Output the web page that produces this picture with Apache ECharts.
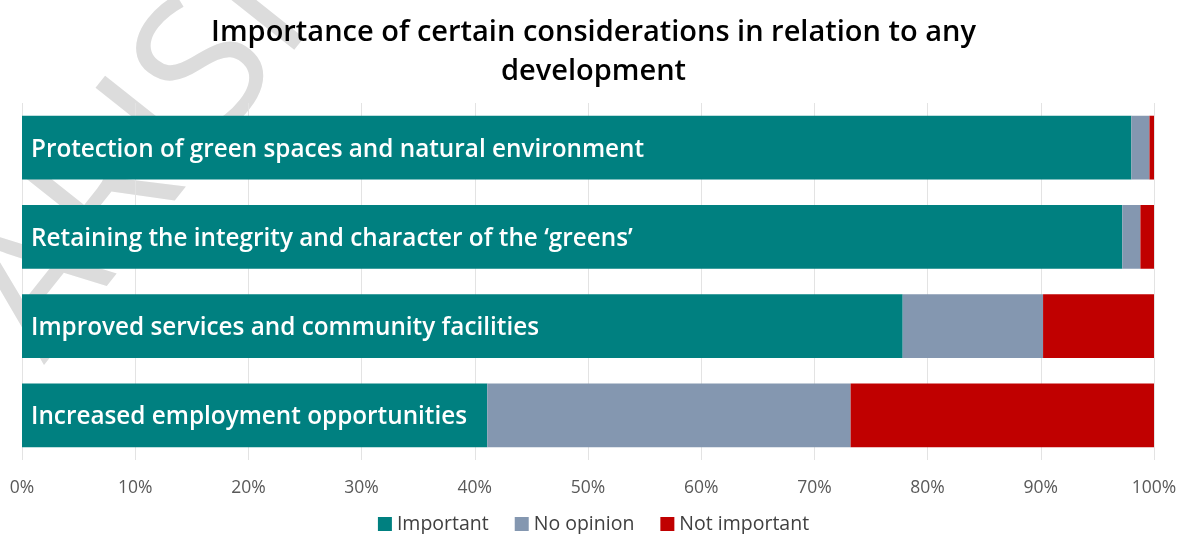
<!DOCTYPE html>
<html>
<head>
<meta charset="utf-8">
<style>
  html, body { margin: 0; padding: 0; background: #ffffff; }
  #chart { width: 1187px; height: 534px; }
</style>
<script src="https://cdn.jsdelivr.net/npm/echarts@6/dist/echarts.min.js"></script>
</head>
<body>
<div id="chart"></div>
<script>
// Survey considerations, listed top to bottom
const categories = [
  'Protection of green spaces and natural environment',
  'Retaining the integrity and character of the \u2018greens\u2019',
  'Improved services and community facilities',
  'Increased employment opportunities'
];
// Share of responses (%) per category
const important    = [98.0, 97.2, 77.8, 41.1];
const noOpinion    = [1.6, 1.6, 12.4, 32.1];
const notImportant = [0.4, 1.2, 9.8, 26.8];
const xTicks = [0, 10, 20, 30, 40, 50, 60, 70, 80, 90, 100];

const FONT = '"Open Sans", "Noto Sans", sans-serif';
const chart = echarts.init(document.getElementById('chart'), null, { renderer: 'canvas' });

const option = {
  animation: false,
  backgroundColor: '#ffffff',
  textStyle: { fontFamily: FONT },
  // diagonal background watermark
  graphic: [{
    type: 'text',
    z: -10,
    x: 130,
    y: 172,
    rotation: 0.9,
    silent: true,
    style: {
      text: 'PARISH',
      fontFamily: FONT,
      fontSize: 185,
      fontWeight: 400,
      fill: '#dcdcdc',
      align: 'center',
      verticalAlign: 'middle'
    }
  }],
  title: {
    text: 'Importance of certain considerations in relation to any\ndevelopment',
    left: 'center',
    top: 8,
    textStyle: {
      fontFamily: FONT,
      fontSize: 29,
      fontWeight: 600,
      color: '#000000',
      lineHeight: 39
    }
  },
  legend: {
    top: 509,
    left: 'center',
    itemWidth: 14,
    itemHeight: 14,
    itemGap: 26,
    icon: 'rect',
    textStyle: { fontFamily: FONT, fontSize: 19.5, color: '#404040' },
    data: ['Important', 'No opinion', 'Not important']
  },
  grid: {
    left: 22,
    right: 33,
    top: 103,
    bottom: 74,
    containLabel: false
  },
  xAxis: {
    type: 'value',
    min: 0,
    max: 100,
    interval: 10,
    axisLine: { show: false },
    axisTick: { show: false },
    splitLine: { show: true, lineStyle: { color: '#e3e3e3', width: 1 } },
    axisLabel: {
      fontFamily: FONT,
      fontSize: 17.5,
      color: '#595959',
      margin: 19,
      formatter: v => xTicks.indexOf(v) >= 0 ? v + '%' : ''
    }
  },
  yAxis: {
    type: 'category',
    inverse: true,
    data: categories,
    axisLine: { show: false },
    axisTick: { show: false },
    axisLabel: { show: false },
    splitLine: { show: false }
  },
  series: [
    {
      name: 'Important',
      type: 'bar',
      stack: 'total',
      barCategoryGap: '28.5%',
      data: important,
      itemStyle: { color: '#008080' },
      label: {
        show: true,
        position: 'insideLeft',
        distance: 9,
        offset: [0, 2],
        formatter: p => categories[p.dataIndex],
        fontFamily: FONT,
        fontSize: 24.3,
        fontWeight: 600,
        color: '#ffffff'
      }
    },
    {
      name: 'No opinion',
      type: 'bar',
      stack: 'total',
      data: noOpinion,
      itemStyle: { color: '#8497b0' }
    },
    {
      name: 'Not important',
      type: 'bar',
      stack: 'total',
      data: notImportant,
      itemStyle: { color: '#c00000' }
    }
  ]
};

chart.setOption(option);
</script>
</body>
</html>
